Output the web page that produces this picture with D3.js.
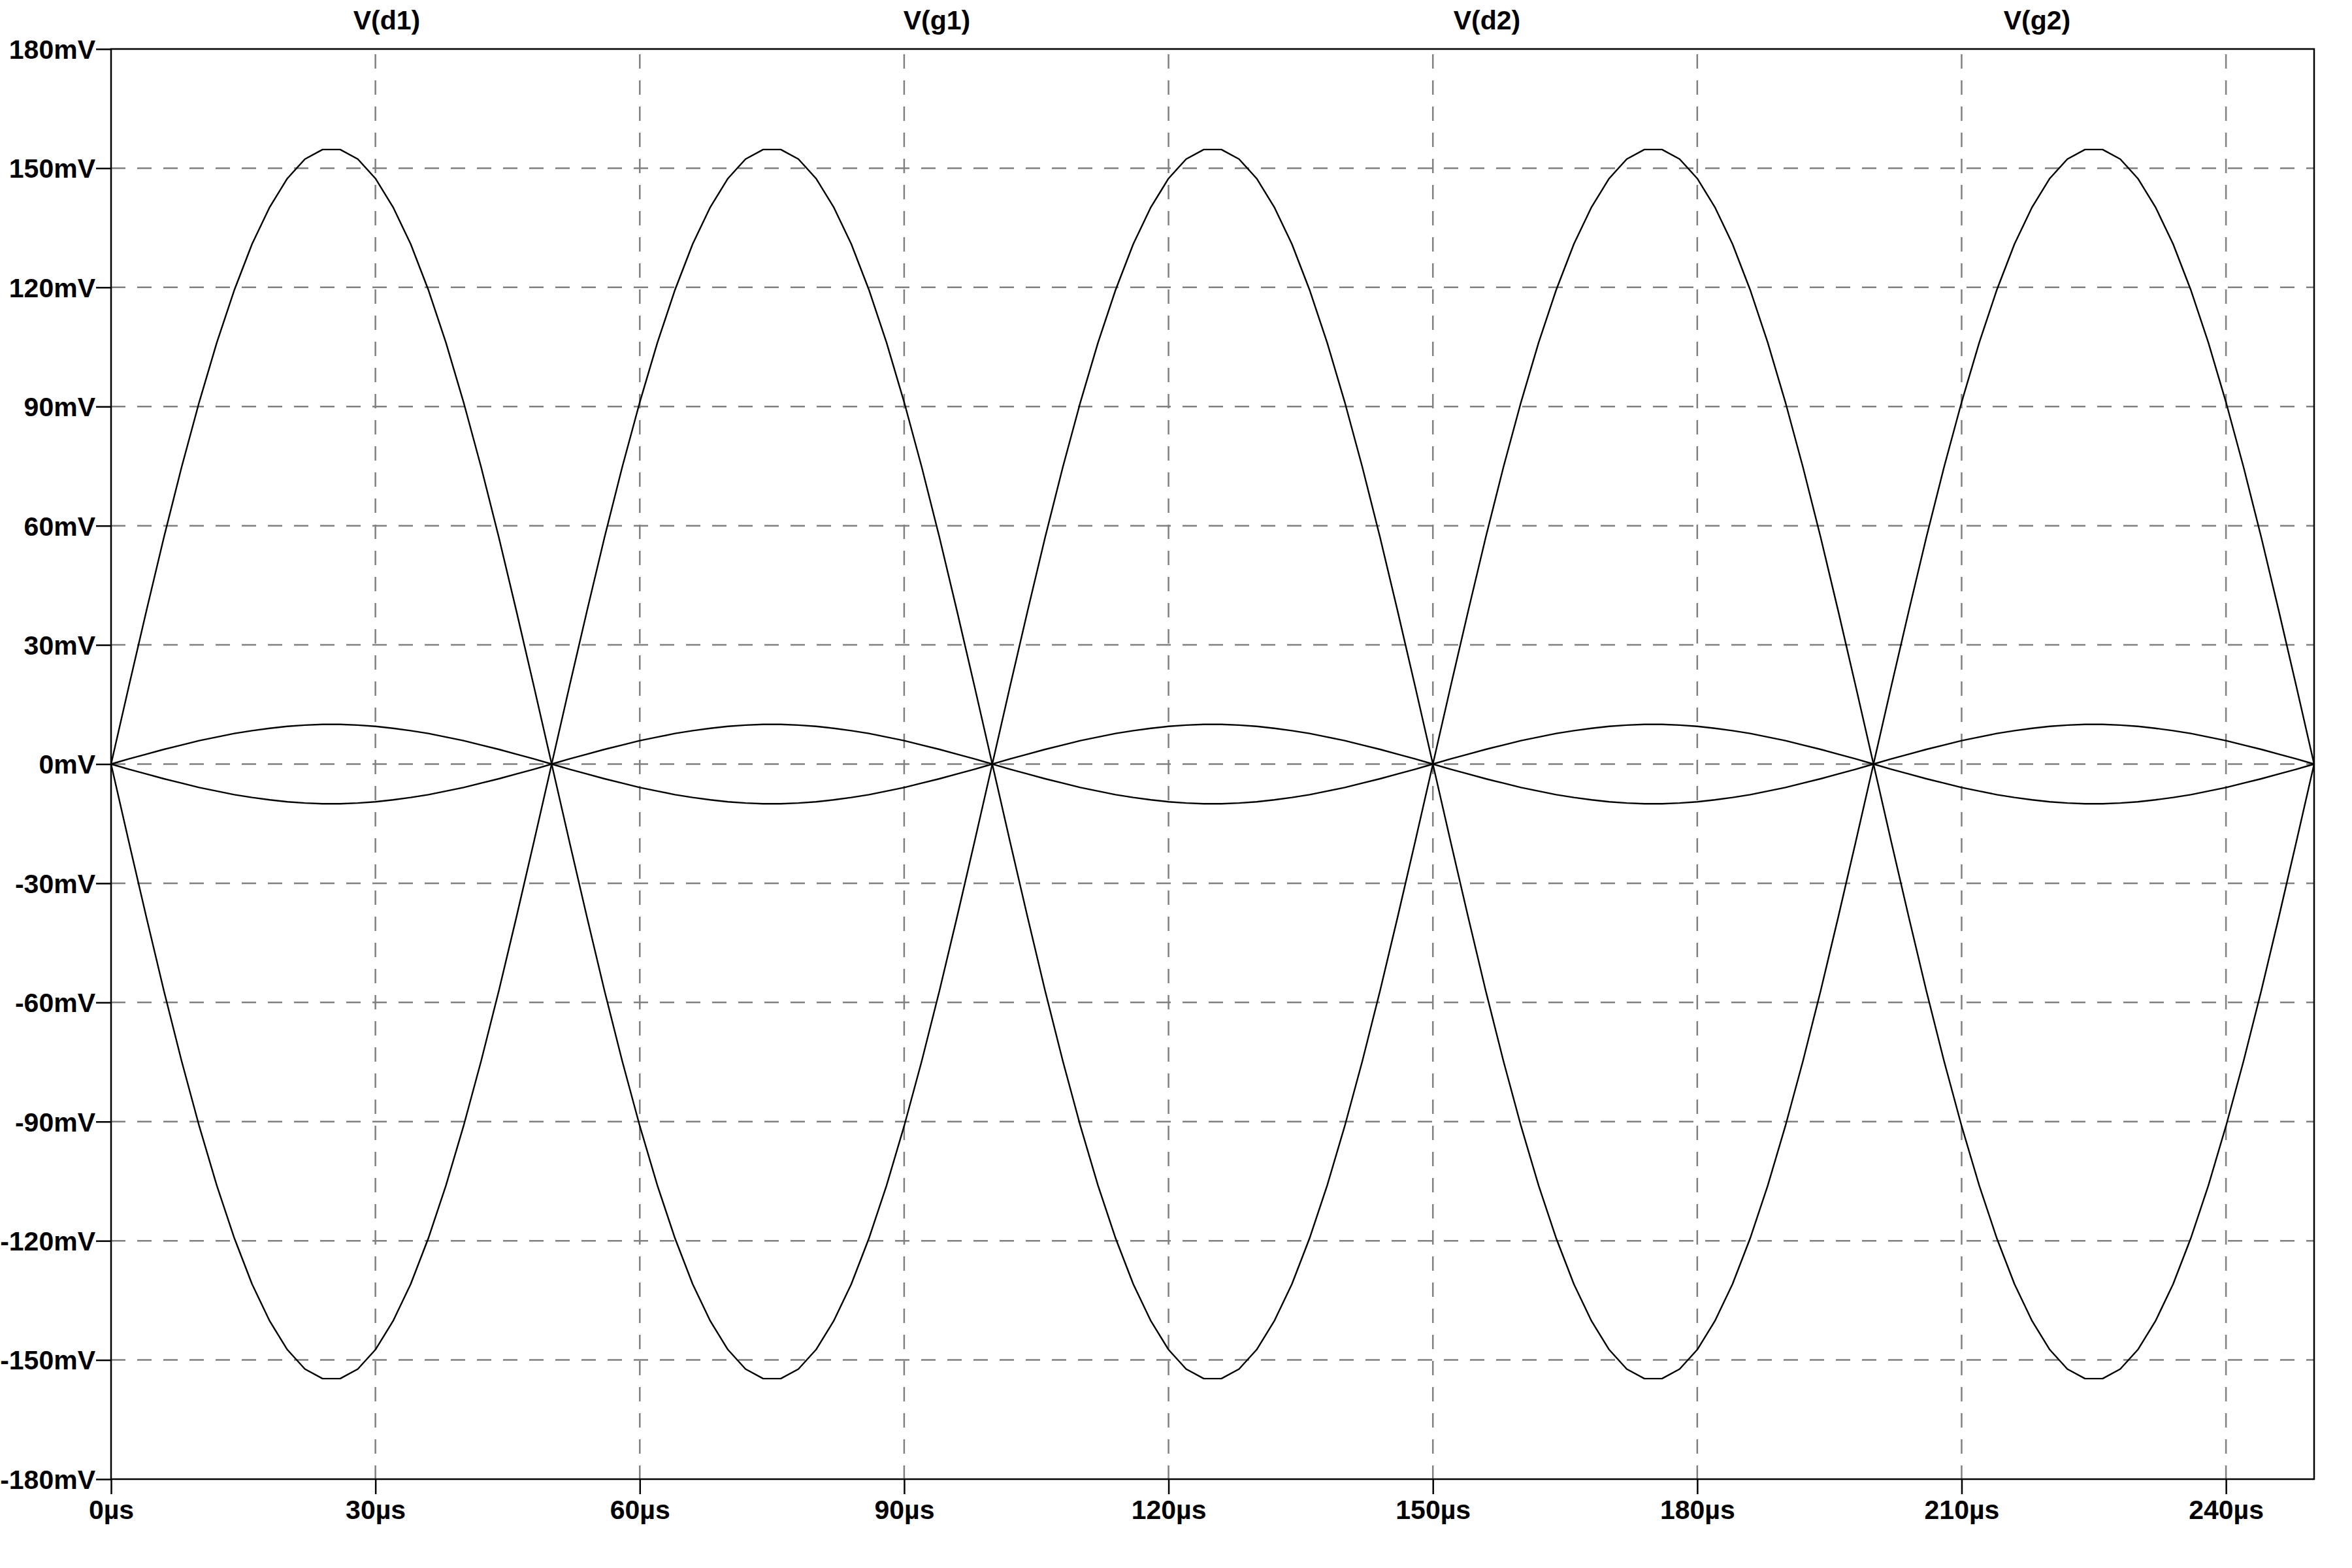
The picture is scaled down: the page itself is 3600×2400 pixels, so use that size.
<!DOCTYPE html>
<html>
<head>
<meta charset="utf-8">
<script src="https://cdn.jsdelivr.net/npm/d3@7"></script>
<style>
  body { margin: 0; background: #fff; }
  text { font-family: "Liberation Sans", Arial, sans-serif; font-weight: bold; }
</style>
</head>
<body>
<div id="plot"></div>
<script>
// trace names, shown along the top
const traceNames = ["V(d1)", "V(g1)", "V(d2)", "V(g2)"]

// time samples in µs
const timeUs = [
  0, 2, 4, 6, 8, 10, 12, 14, 16, 18, 20, 22, 24, 26, 28, 30, 32, 34, 36, 38, 40, 42, 44, 46, 48,
  50, 52, 54, 56, 58, 60, 62, 64, 66, 68, 70, 72, 74, 76, 78, 80, 82, 84, 86, 88, 90, 92, 94, 96, 98,
  100, 102, 104, 106, 108, 110, 112, 114, 116, 118, 120, 122, 124, 126, 128, 130, 132, 134, 136, 138, 140, 142, 144, 146, 148,
  150, 152, 154, 156, 158, 160, 162, 164, 166, 168, 170, 172, 174, 176, 178, 180, 182, 184, 186, 188, 190, 192, 194, 196, 198,
  200, 202, 204, 206, 208, 210, 212, 214, 216, 218, 220, 222, 224, 226, 228, 230, 232, 234, 236, 238, 240, 242, 244, 246, 248,
  250
]

// V(d1) in mV
const vD1 = [
  0, -19.4, -38.5, -57.1, -74.7, -91.1, -106.1, -119.4, -130.9, -140.2, -147.4, -152.3, -154.7, -154.7, -152.3, -147.4, -140.2, -130.9, -119.4, -106.1, -91.1, -74.7, -57.1, -38.5, -19.4,
  0, 19.4, 38.5, 57.1, 74.7, 91.1, 106.1, 119.4, 130.9, 140.2, 147.4, 152.3, 154.7, 154.7, 152.3, 147.4, 140.2, 130.9, 119.4, 106.1, 91.1, 74.7, 57.1, 38.5, 19.4,
  0, -19.4, -38.5, -57.1, -74.7, -91.1, -106.1, -119.4, -130.9, -140.2, -147.4, -152.3, -154.7, -154.7, -152.3, -147.4, -140.2, -130.9, -119.4, -106.1, -91.1, -74.7, -57.1, -38.5, -19.4,
  0, 19.4, 38.5, 57.1, 74.7, 91.1, 106.1, 119.4, 130.9, 140.2, 147.4, 152.3, 154.7, 154.7, 152.3, 147.4, 140.2, 130.9, 119.4, 106.1, 91.1, 74.7, 57.1, 38.5, 19.4,
  0, -19.4, -38.5, -57.1, -74.7, -91.1, -106.1, -119.4, -130.9, -140.2, -147.4, -152.3, -154.7, -154.7, -152.3, -147.4, -140.2, -130.9, -119.4, -106.1, -91.1, -74.7, -57.1, -38.5, -19.4,
  0
]

// V(g1) in mV
const vG1 = [
  0, 1.3, 2.5, 3.7, 4.8, 5.9, 6.8, 7.7, 8.4, 9.0, 9.5, 9.8, 10.0, 10.0, 9.8, 9.5, 9.0, 8.4, 7.7, 6.8, 5.9, 4.8, 3.7, 2.5, 1.3,
  0, -1.3, -2.5, -3.7, -4.8, -5.9, -6.8, -7.7, -8.4, -9.0, -9.5, -9.8, -10.0, -10.0, -9.8, -9.5, -9.0, -8.4, -7.7, -6.8, -5.9, -4.8, -3.7, -2.5, -1.3,
  0, 1.3, 2.5, 3.7, 4.8, 5.9, 6.8, 7.7, 8.4, 9.0, 9.5, 9.8, 10.0, 10.0, 9.8, 9.5, 9.0, 8.4, 7.7, 6.8, 5.9, 4.8, 3.7, 2.5, 1.3,
  0, -1.3, -2.5, -3.7, -4.8, -5.9, -6.8, -7.7, -8.4, -9.0, -9.5, -9.8, -10.0, -10.0, -9.8, -9.5, -9.0, -8.4, -7.7, -6.8, -5.9, -4.8, -3.7, -2.5, -1.3,
  0, 1.3, 2.5, 3.7, 4.8, 5.9, 6.8, 7.7, 8.4, 9.0, 9.5, 9.8, 10.0, 10.0, 9.8, 9.5, 9.0, 8.4, 7.7, 6.8, 5.9, 4.8, 3.7, 2.5, 1.3,
  0
]

// V(d2) in mV
const vD2 = [
  0, 19.4, 38.5, 57.1, 74.7, 91.1, 106.1, 119.4, 130.9, 140.2, 147.4, 152.3, 154.7, 154.7, 152.3, 147.4, 140.2, 130.9, 119.4, 106.1, 91.1, 74.7, 57.1, 38.5, 19.4,
  0, -19.4, -38.5, -57.1, -74.7, -91.1, -106.1, -119.4, -130.9, -140.2, -147.4, -152.3, -154.7, -154.7, -152.3, -147.4, -140.2, -130.9, -119.4, -106.1, -91.1, -74.7, -57.1, -38.5, -19.4,
  0, 19.4, 38.5, 57.1, 74.7, 91.1, 106.1, 119.4, 130.9, 140.2, 147.4, 152.3, 154.7, 154.7, 152.3, 147.4, 140.2, 130.9, 119.4, 106.1, 91.1, 74.7, 57.1, 38.5, 19.4,
  0, -19.4, -38.5, -57.1, -74.7, -91.1, -106.1, -119.4, -130.9, -140.2, -147.4, -152.3, -154.7, -154.7, -152.3, -147.4, -140.2, -130.9, -119.4, -106.1, -91.1, -74.7, -57.1, -38.5, -19.4,
  0, 19.4, 38.5, 57.1, 74.7, 91.1, 106.1, 119.4, 130.9, 140.2, 147.4, 152.3, 154.7, 154.7, 152.3, 147.4, 140.2, 130.9, 119.4, 106.1, 91.1, 74.7, 57.1, 38.5, 19.4,
  0
]

// V(g2) in mV
const vG2 = [
  0, -1.3, -2.5, -3.7, -4.8, -5.9, -6.8, -7.7, -8.4, -9.0, -9.5, -9.8, -10.0, -10.0, -9.8, -9.5, -9.0, -8.4, -7.7, -6.8, -5.9, -4.8, -3.7, -2.5, -1.3,
  0, 1.3, 2.5, 3.7, 4.8, 5.9, 6.8, 7.7, 8.4, 9.0, 9.5, 9.8, 10.0, 10.0, 9.8, 9.5, 9.0, 8.4, 7.7, 6.8, 5.9, 4.8, 3.7, 2.5, 1.3,
  0, -1.3, -2.5, -3.7, -4.8, -5.9, -6.8, -7.7, -8.4, -9.0, -9.5, -9.8, -10.0, -10.0, -9.8, -9.5, -9.0, -8.4, -7.7, -6.8, -5.9, -4.8, -3.7, -2.5, -1.3,
  0, 1.3, 2.5, 3.7, 4.8, 5.9, 6.8, 7.7, 8.4, 9.0, 9.5, 9.8, 10.0, 10.0, 9.8, 9.5, 9.0, 8.4, 7.7, 6.8, 5.9, 4.8, 3.7, 2.5, 1.3,
  0, -1.3, -2.5, -3.7, -4.8, -5.9, -6.8, -7.7, -8.4, -9.0, -9.5, -9.8, -10.0, -10.0, -9.8, -9.5, -9.0, -8.4, -7.7, -6.8, -5.9, -4.8, -3.7, -2.5, -1.3,
  0
]

// axis ticks
const xTicks = [0, 30, 60, 90, 120, 150, 180, 210, 240]
const yTicks = [-180, -150, -120, -90, -60, -30, 0, 30, 60, 90, 120, 150, 180]

const w = 3600
const h = 2400
const plotLeft = 170
const plotRight = 3542
const plotTop = 75
const plotBottom = 2264
const fontSize = "41px"

const svg = d3.select("#plot")
  .append("svg")
  .attr("width", w)
  .attr("height", h)

svg.append("rect")
  .attr("width", w)
  .attr("height", h)
  .attr("fill", "white")

const xScale = d3.scaleLinear()
  .domain([0, 250])
  .range([plotLeft, plotRight])

const yScale = d3.scaleLinear()
  .domain([-180, 180])
  .range([plotBottom, plotTop])

// dashed grid
svg.append("g")
  .selectAll("line")
  .data(yTicks.filter(d => d > -180 && d < 180))
  .enter()
  .append("line")
  .attr("x1", plotLeft)
  .attr("x2", plotRight)
  .attr("y1", d => yScale(d))
  .attr("y2", d => yScale(d))
  .attr("stroke", "#808080")
  .attr("stroke-width", 2.5)
  .attr("stroke-dasharray", "22,18")

svg.append("g")
  .selectAll("line")
  .data(xTicks.filter(d => d > 0))
  .enter()
  .append("line")
  .attr("x1", d => xScale(d))
  .attr("x2", d => xScale(d))
  .attr("y1", plotTop)
  .attr("y2", plotBottom)
  .attr("stroke", "#808080")
  .attr("stroke-width", 2.5)
  .attr("stroke-dasharray", "22,18")
  .attr("stroke-dashoffset", 32)

// traces
const line = d3.line()
  .x((d, i) => xScale(timeUs[i]))
  .y(d => yScale(d))

const series = [vD1, vG1, vD2, vG2]
svg.append("g")
  .selectAll("path")
  .data(series)
  .enter()
  .append("path")
  .attr("d", line)
  .attr("fill", "none")
  .attr("stroke", "black")
  .attr("stroke-width", 2.4)
  .attr("stroke-linejoin", "round")

// frame
svg.append("rect")
  .attr("x", plotLeft)
  .attr("y", plotTop)
  .attr("width", plotRight - plotLeft)
  .attr("height", plotBottom - plotTop)
  .attr("fill", "none")
  .attr("stroke", "black")
  .attr("stroke-width", 2.5)

// axes
const xAxis = d3.axisBottom(xScale)
  .tickValues(xTicks)
  .tickSize(23)
  .tickFormat(d => `${d}µs`)

const yAxis = d3.axisLeft(yScale)
  .tickValues(yTicks)
  .tickSize(23)
  .tickPadding(1)
  .tickFormat(d => `${d}mV`)

const gx = svg.append("g")
  .attr("transform", `translate(0, ${plotBottom})`)
  .call(xAxis)
gx.select(".domain").remove()
gx.selectAll("line").attr("stroke", "black").attr("stroke-width", 2.5)
gx.selectAll("text")
  .attr("y", 61)
  .attr("dy", null)
  .attr("fill", "black")
  .style("font-size", fontSize)

const gy = svg.append("g")
  .attr("transform", `translate(${plotLeft}, 0)`)
  .call(yAxis)
gy.select(".domain").remove()
gy.selectAll("line").attr("stroke", "black").attr("stroke-width", 2.5)
gy.selectAll("text")
  .attr("dy", "0.35em")
  .attr("fill", "black")
  .style("font-size", fontSize)

// trace labels across the top
svg.append("g")
  .selectAll("text")
  .data(traceNames)
  .enter()
  .append("text")
  .attr("x", (d, i) => 592 + 842 * i)
  .attr("y", 45)
  .attr("text-anchor", "middle")
  .style("font-size", fontSize)
  .text(d => d)
</script>
</body>
</html>
